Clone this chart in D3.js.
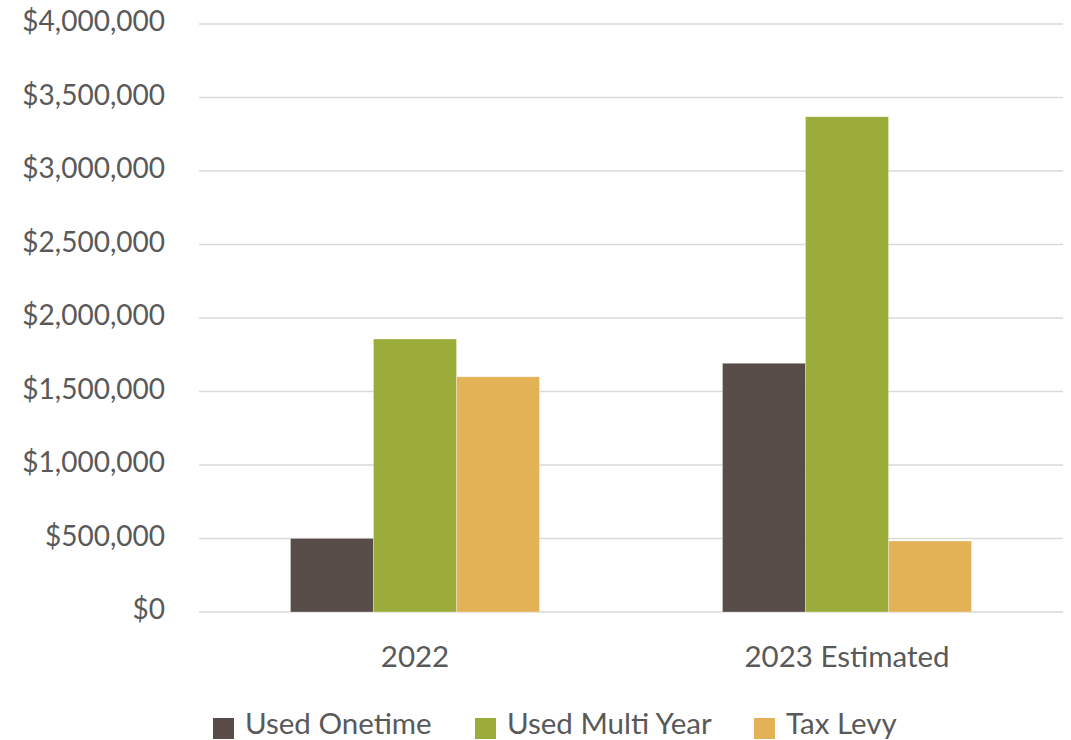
<!DOCTYPE html>
<html><head><meta charset="utf-8">
<script src="https://cdn.jsdelivr.net/npm/d3@7"></script>
<style>body{margin:0;background:#fff;}svg{display:block;}</style>
</head><body>
<svg id="c" width="1071" height="740"></svg>
<script>
const categories = ["2022", "2023 Estimated"];
const seriesNames = ["Used Onetime", "Used Multi Year", "Tax Levy"];
const usedOnetime = [500000, 1692000];
const usedMultiYear = [1857000, 3369000];
const taxLevy = [1600000, 483000];
const yTicks = [0, 500000, 1000000, 1500000, 2000000, 2500000, 3000000, 3500000, 4000000];
const colors = ["#574C47", "#9CAC3B", "#E3B257"];
const series = [usedOnetime, usedMultiYear, taxLevy];

(function(){
const svg = d3.select("#c");
const font = "Lato, 'Open Sans', sans-serif";
const mLeft = 199, mRight = 1063, mTop = 24, mBottom = 612;
const y = d3.scaleLinear().domain([0, 4000000]).range([mBottom, mTop]);
const x0 = d3.scaleBand().domain(categories).range([mLeft, mRight]).paddingInner(0).paddingOuter(0);
const groupW = 249;
const x1 = d3.scaleBand().domain(seriesNames).range([0, groupW]).padding(0);

svg.append("g").selectAll("line").data(yTicks).join("line")
  .attr("x1", mLeft).attr("x2", mRight)
  .attr("y1", d => y(d)).attr("y2", d => y(d))
  .attr("stroke", "#d9d9d9").attr("stroke-width", 1.5);

const fmt = d3.format("$,.0f");
svg.append("g").selectAll("text").data(yTicks).join("text")
  .attr("x", 165).attr("y", d => y(d)).attr("dy", "0.25em")
  .attr("text-anchor", "end").attr("font-family", font).attr("font-size", 28)
  .attr("fill", "#595959").text(d => fmt(d));

const g = svg.append("g");
categories.forEach((c, ci) => {
  const gx = x0(c) + (x0.bandwidth() - groupW) / 2;
  series.forEach((s, si) => {
    g.append("rect")
      .attr("x", gx + x1(seriesNames[si]))
      .attr("y", y(s[ci]))
      .attr("width", x1.bandwidth())
      .attr("height", y(0) - y(s[ci]))
      .attr("fill", colors[si])
      .attr("stroke", "rgba(255,255,255,0.35)").attr("stroke-width", 0.8);
  });
});

svg.append("g").selectAll("text").data(categories).join("text")
  .attr("x", d => x0(d) + x0.bandwidth() / 2).attr("y", 667)
  .attr("text-anchor", "middle").attr("font-family", font).attr("font-size", 29.5)
  .attr("fill", "#595959").text(d => d);

const legX = [213, 475, 754];
const lg = svg.append("g");
seriesNames.forEach((n, i) => {
  lg.append("rect").attr("x", legX[i]).attr("y", 718).attr("width", 21).attr("height", 21).attr("fill", colors[i]);
  lg.append("text").attr("x", legX[i] + 32).attr("y", 734)
    .attr("font-family", font).attr("font-size", 29.5).attr("fill", "#595959").text(n);
});
})();
</script>
</body></html>
